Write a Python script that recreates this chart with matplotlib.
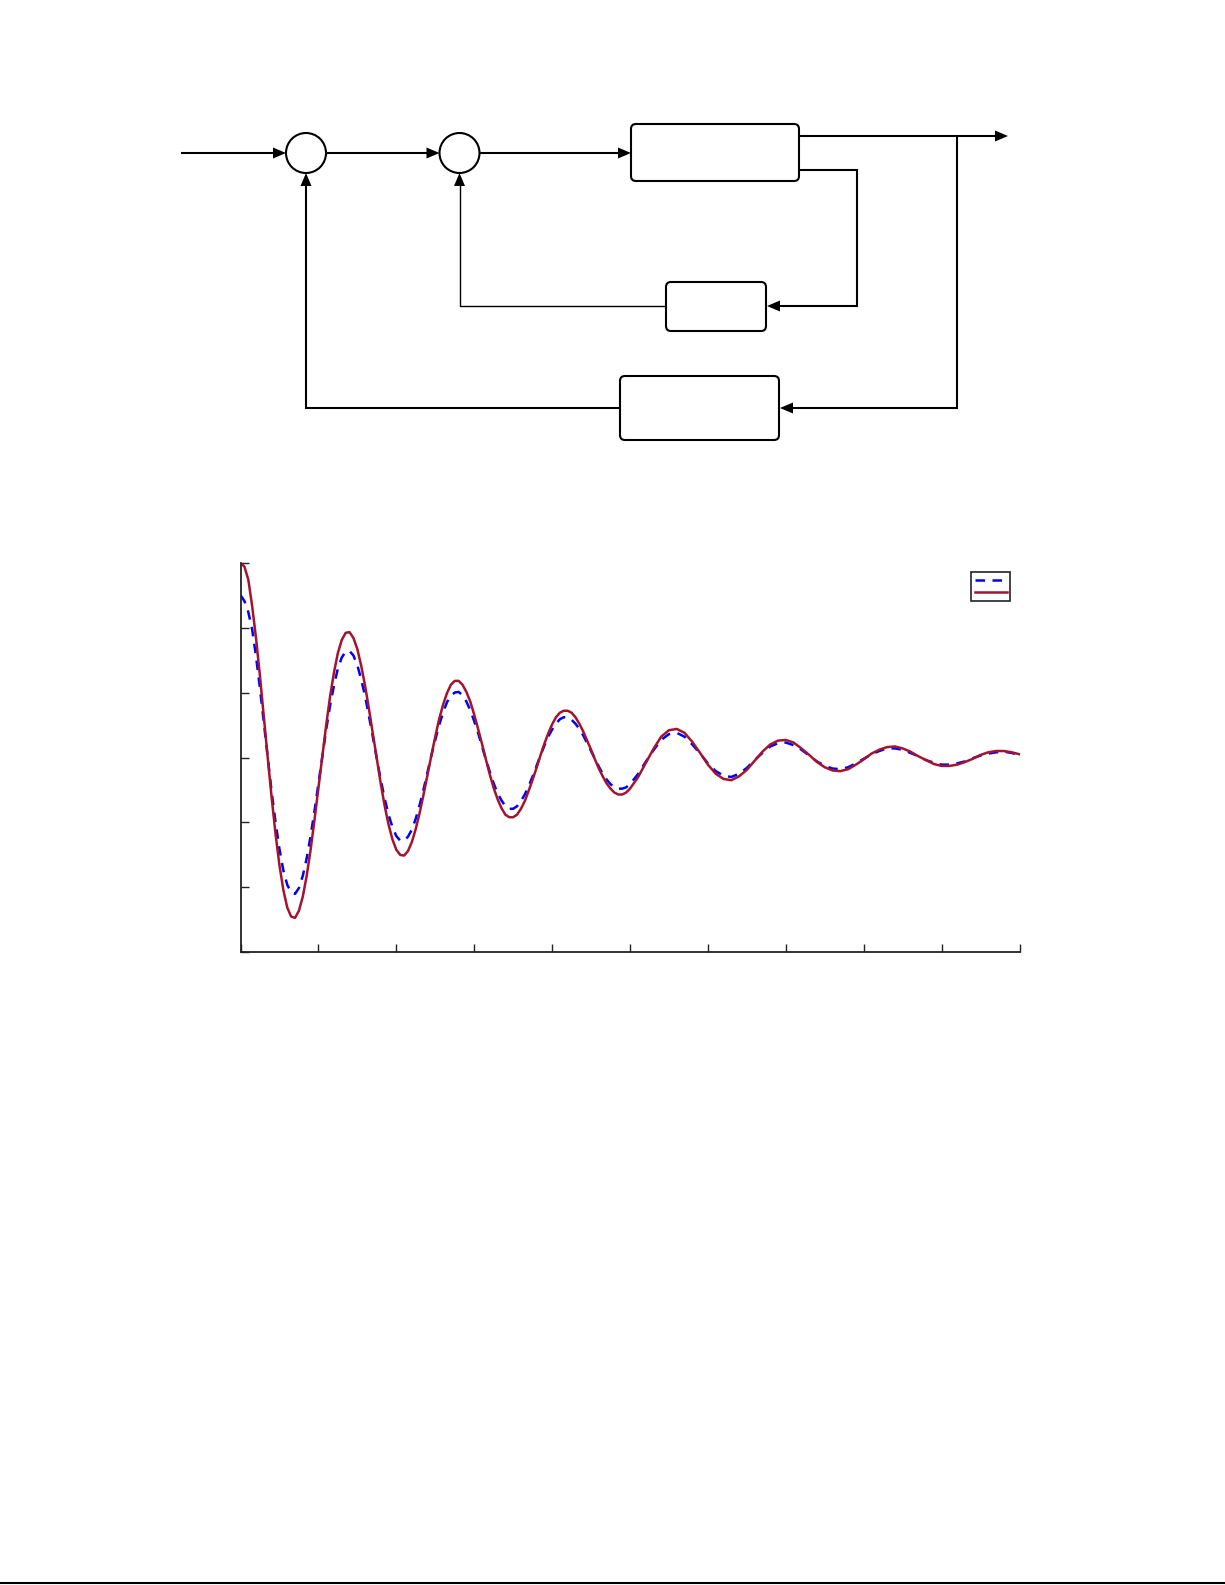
import numpy as np
import matplotlib
matplotlib.use('Agg')
import matplotlib.pyplot as plt
from matplotlib.patches import Circle, FancyBboxPatch, Polygon
from matplotlib.lines import Line2D

# time axis of the response plot: step 0.05 up to 5, then 0.1 up to 10
t = np.concatenate([np.arange(0, 101) * 0.05, 5.0 + np.arange(1, 51) * 0.1])

# responses
y_dashed = [5.50, 5.41, 5.24, 4.97, 4.55, 4.06, 3.53, 2.99, 2.47, 2.00,
            1.59, 1.26, 1.04, 0.92, 0.90, 0.99, 1.18, 1.45, 1.79, 2.18,
            2.60, 3.02, 3.43, 3.80, 4.11, 4.37, 4.54, 4.63, 4.64, 4.57,
            4.42, 4.20, 3.94, 3.63, 3.31, 2.98, 2.66, 2.37, 2.12, 1.93,
            1.79, 1.72, 1.72, 1.78, 1.89, 2.06, 2.27, 2.51, 2.77, 3.03,
            3.27, 3.50, 3.69, 3.85, 3.95, 4.00, 4.01, 3.96, 3.86, 3.73,
            3.56, 3.38, 3.17, 2.97, 2.78, 2.60, 2.45, 2.34, 2.25, 2.21,
            2.21, 2.25, 2.33, 2.43, 2.56, 2.71, 2.87, 3.03, 3.18, 3.32,
            3.43, 3.52, 3.59, 3.62, 3.62, 3.58, 3.52, 3.44, 3.34, 3.22,
            3.10, 2.98, 2.86, 2.75, 2.66, 2.59, 2.54, 2.52, 2.52, 2.54,
            2.59,
            2.74, 2.93, 3.11, 3.27, 3.36, 3.38, 3.32, 3.20, 3.06, 2.91,
            2.79, 2.72, 2.70, 2.75, 2.84, 2.96, 3.07, 3.17, 3.22, 3.23,
            3.19, 3.12, 3.03, 2.94, 2.87, 2.83, 2.82, 2.85, 2.91, 2.98,
            3.05, 3.10, 3.14, 3.14, 3.12, 3.07, 3.02, 2.96, 2.92, 2.89,
            2.89, 2.91, 2.94, 2.99, 3.03, 3.06, 3.08, 3.09, 3.07, 3.04]
y_solid = [6.00, 5.94, 5.74, 5.33, 4.83, 4.25, 3.62, 2.99, 2.38, 1.82,
           1.34, 0.96, 0.69, 0.55, 0.53, 0.64, 0.86, 1.18, 1.58, 2.04,
           2.53, 3.02, 3.50, 3.94, 4.31, 4.61, 4.81, 4.92, 4.93, 4.84,
           4.67, 4.41, 4.10, 3.74, 3.36, 2.97, 2.60, 2.26, 1.97, 1.74,
           1.58, 1.50, 1.49, 1.56, 1.70, 1.90, 2.15, 2.43, 2.73, 3.03,
           3.32, 3.59, 3.81, 3.99, 4.12, 4.18, 4.18, 4.12, 4.01, 3.86,
           3.66, 3.44, 3.21, 2.97, 2.74, 2.53, 2.36, 2.22, 2.12, 2.08,
           2.08, 2.12, 2.21, 2.33, 2.49, 2.66, 2.84, 3.03, 3.21, 3.37,
           3.51, 3.62, 3.69, 3.72, 3.72, 3.69, 3.62, 3.52, 3.40, 3.26,
           3.12, 2.97, 2.83, 2.71, 2.60, 2.52, 2.46, 2.43, 2.43, 2.46,
           2.52,
           2.69, 2.91, 3.13, 3.32, 3.42, 3.44, 3.38, 3.24, 3.07, 2.89,
           2.75, 2.67, 2.65, 2.71, 2.81, 2.95, 3.09, 3.20, 3.26, 3.27,
           3.23, 3.14, 3.04, 2.93, 2.85, 2.80, 2.79, 2.82, 2.89, 2.97,
           3.06, 3.12, 3.16, 3.17, 3.14, 3.09, 3.02, 2.96, 2.90, 2.87,
           2.87, 2.89, 2.93, 2.98, 3.04, 3.08, 3.10, 3.10, 3.08, 3.05]

x_ticks = np.arange(0, 11)
y_ticks = np.arange(0, 7)

W, H = 1225, 1585
fig = plt.figure(figsize=(W / 100, H / 100), dpi=100)

# ---- block diagram (drawn in pixel coordinates) ----
dg = fig.add_axes([0, 0, 1, 1])
dg.set_xlim(0, W)
dg.set_ylim(H, 0)
dg.axis('off')

LW = 1.5


def seg(pts, lw=LW):
    xs, ys = zip(*pts)
    dg.plot(xs, ys, color='black', lw=lw, solid_capstyle='butt', solid_joinstyle='miter')


def head(x, y, direction, L=13, Wd=5.5):
    # filled triangle with its tip at (x, y)
    if direction == 'right':
        pts = [(x, y), (x - L, y - Wd), (x - L, y + Wd)]
    elif direction == 'left':
        pts = [(x, y), (x + L, y - Wd), (x + L, y + Wd)]
    else:  # up
        pts = [(x, y), (x - Wd, y + L), (x + Wd, y + L)]
    dg.add_patch(Polygon(pts, closed=True, color='black', lw=0))


def block(x0, y0, x1, y1):
    dg.add_patch(FancyBboxPatch((x0, y0), x1 - x0, y1 - y0,
                                boxstyle='round,pad=0,rounding_size=5',
                                fc='white', ec='black', lw=LW))


c1 = (306, 153)
c2 = (459.5, 153)
r = 20
for c in (c1, c2):
    dg.add_patch(Circle(c, r, fc='white', ec='black', lw=LW, zorder=3))

block(631, 124, 799, 181)
block(666, 282, 766, 331)
block(620, 376, 779, 440)

# forward path
seg([(181, 153), (c1[0] - r - 12, 153)])
head(c1[0] - r, 153, 'right')
seg([(c1[0] + r, 153), (c2[0] - r - 12, 153)])
head(c2[0] - r, 153, 'right')
seg([(c2[0] + r, 153), (619, 153)])
head(631, 153, 'right')

# output
seg([(799, 136), (996, 136)])
head(1008, 136, 'right')

# outer feedback
seg([(957, 136), (957, 408), (792, 408)])
head(780, 408, 'left')
seg([(620, 408), (c1[0], 408), (c1[0], c1[1] + r + 12)])
head(c1[0], c1[1] + r, 'up')

# inner feedback
seg([(799, 170), (857, 170), (857, 306), (779, 306)])
head(767, 306, 'left')
seg([(666, 306), (c2[0], 306), (c2[0], c2[1] + r + 12)], lw=1.0)
head(c2[0], c2[1] + r, 'up')

# page rule at the bottom
fig.add_artist(Line2D([0, 1], [1 - 1583.3 / H] * 2, color='black', lw=1.5,
                      transform=fig.transFigure))

# ---- response plot ----
left, right, top, bottom = 240.5, 1019.5, 562.7, 952.3
ax = fig.add_axes([left / W, 1 - bottom / H, (right - left) / W, (bottom - top) / H])
l1, = ax.plot(t, y_dashed, color='#0000FF', lw=1.8, dashes=(3.8, 3.0),
              dash_joinstyle='round')
l2, = ax.plot(t, y_solid, color='#A2142F', lw=1.8, solid_joinstyle='round')
ax.set_xlim(0, 10)
ax.set_ylim(0, 6)
ax.set_xticks(x_ticks)
ax.set_yticks(y_ticks)
ax.set_xticklabels([])
ax.set_yticklabels([])
ax.tick_params(direction='in', length=6, width=1.0, colors='#222222')
for s in ('top', 'right'):
    ax.spines[s].set_visible(False)
for s in ('left', 'bottom'):
    ax.spines[s].set_color('#222222')
    ax.spines[s].set_linewidth(1.3)

leg = ax.legend([l1, l2], ['', ''], loc='upper right',
                bbox_to_anchor=(0.988, 0.977), borderaxespad=0,
                fontsize=7, handlelength=3.3, handletextpad=0,
                borderpad=0.35, labelspacing=0.25, fancybox=False,
                framealpha=1, edgecolor='#222222')
leg.get_frame().set_linewidth(1.2)

fig.savefig('out.png', dpi=100)
